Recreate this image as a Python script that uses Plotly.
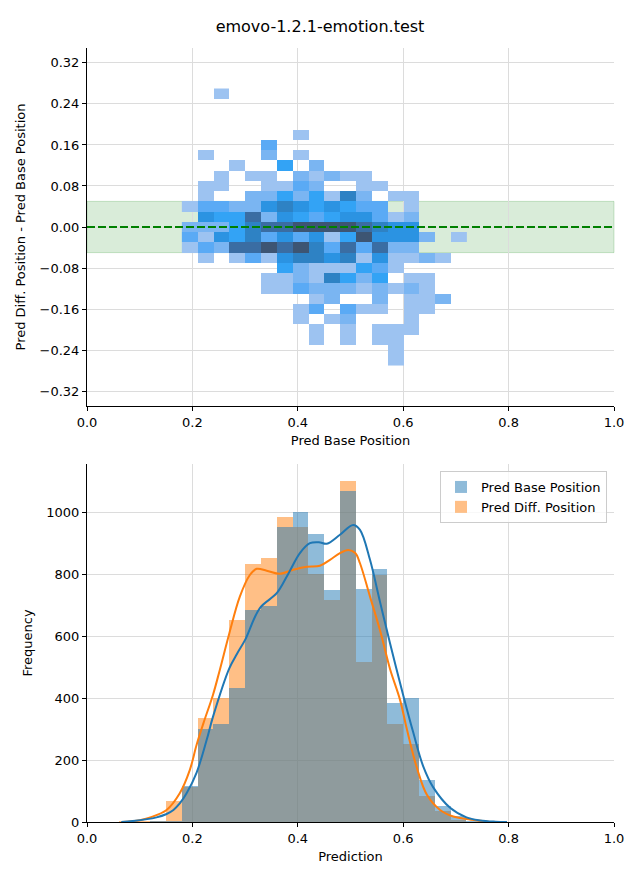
import numpy as np
import plotly.graph_objects as go

# ---------------- data: top 2D histogram ----------------
hx_centers = [0.195, 0.225, 0.255, 0.285, 0.315, 0.345, 0.375, 0.405, 0.435,
              0.465, 0.495, 0.525, 0.555, 0.585, 0.615, 0.645, 0.675, 0.705]
hy_centers = [0.26, 0.24, 0.22, 0.20, 0.18, 0.16, 0.14, 0.12, 0.10, 0.08, 0.06,
              0.04, 0.02, 0.00, -0.02, -0.04, -0.06, -0.08, -0.10, -0.12, -0.14,
              -0.16, -0.18, -0.20, -0.22, -0.24, -0.26]
# counts per cell: {row value: {column index: count}}
cell_counts = {
    0.26: {2: 1},
    0.18: {7: 1},
    0.16: {5: 3},
    0.14: {1: 1, 5: 2, 7: 1},
    0.12: {3: 1, 6: 4, 8: 2},
    0.10: {2: 1, 4: 1, 5: 1, 7: 2, 8: 1, 9: 2, 10: 1, 11: 1},
    0.08: {1: 1, 2: 1, 5: 1, 6: 1, 7: 3, 8: 2, 11: 1, 12: 1},
    0.06: {1: 1, 4: 2, 5: 2, 6: 4, 7: 2, 8: 4, 9: 1, 10: 6, 11: 2, 13: 1, 14: 1},
    0.04: {0: 1, 1: 3, 2: 3, 3: 2, 4: 2, 5: 5, 6: 6, 7: 5, 8: 4, 9: 5, 10: 4, 11: 3, 12: 3, 14: 1},
    0.02: {1: 5, 2: 4, 3: 4, 4: 7, 5: 2, 6: 5, 7: 4, 8: 3, 9: 4, 10: 5, 11: 5, 12: 3, 13: 1, 14: 2},
    0.00: {0: 2, 1: 2, 2: 2, 3: 4, 4: 6, 5: 7, 6: 7, 7: 8, 8: 8, 9: 8, 10: 8, 11: 7, 12: 6, 13: 5, 14: 5},
    -0.02: {0: 3, 1: 1, 2: 5, 3: 4, 4: 6, 5: 3, 6: 5, 7: 3, 8: 5, 9: 1, 10: 4, 11: 8, 12: 5, 13: 5, 14: 5, 15: 2, 17: 1},
    -0.04: {0: 1, 1: 3, 2: 2, 3: 7, 4: 7, 5: 8, 6: 7, 7: 8, 8: 6, 9: 3, 10: 7, 11: 3, 12: 7, 13: 2, 14: 2},
    -0.06: {1: 1, 3: 1, 4: 3, 5: 1, 6: 5, 7: 6, 8: 6, 9: 5, 10: 6, 11: 1, 12: 5, 13: 1, 14: 1, 15: 2, 16: 1},
    -0.08: {6: 4, 7: 2, 8: 1, 9: 1, 10: 1, 11: 4, 12: 3, 13: 1},
    -0.10: {5: 1, 6: 1, 7: 2, 8: 1, 9: 6, 10: 4, 11: 2, 12: 4, 14: 1, 15: 1},
    -0.12: {5: 1, 6: 1, 7: 3, 8: 2, 9: 2, 10: 2, 11: 1, 12: 2, 13: 1, 14: 2, 15: 1},
    -0.14: {8: 1, 9: 2, 12: 2, 14: 1, 15: 1, 16: 2},
    -0.16: {7: 1, 8: 3, 10: 3, 11: 1, 12: 1, 14: 1, 15: 1},
    -0.18: {7: 1, 9: 1, 10: 2, 14: 1},
    -0.20: {8: 1, 10: 1, 12: 1, 13: 1, 14: 1},
    -0.22: {8: 1, 10: 1, 12: 1, 13: 1},
    -0.24: {13: 1},
    -0.26: {13: 1},
}
top_yticks = [-0.32, -0.24, -0.16, -0.08, 0.00, 0.08, 0.16, 0.24, 0.32]
x_ticks = [0.0, 0.2, 0.4, 0.6, 0.8, 1.0]

# ---------------- data: bottom histograms ----------------
bin_edges = [0.06, 0.09, 0.12, 0.15, 0.18, 0.21, 0.24, 0.27, 0.30, 0.33, 0.36, 0.39,
             0.42, 0.45, 0.48, 0.51, 0.54, 0.57, 0.60, 0.63, 0.66, 0.69, 0.72, 0.75]
base_counts = [0, 1, 2, 3, 116, 300, 317, 433, 685, 700, 953, 1002,
               933, 752, 1070, 755, 818, 385, 400, 136, 52, 19, 3]
diff_counts = [2, 2, 3, 68, 112, 337, 400, 652, 833, 853, 985, 953,
               802, 717, 1102, 518, 800, 317, 252, 85, 36, 6, 1]

base_kde_x = [0.065, 0.087, 0.132, 0.150, 0.164, 0.176, 0.189, 0.208, 0.227, 0.239,
              0.270, 0.285, 0.300, 0.328, 0.360, 0.381, 0.404, 0.423, 0.440, 0.455,
              0.480, 0.505, 0.518, 0.537, 0.556, 0.575, 0.600, 0.619, 0.638, 0.657,
              0.689, 0.720, 0.746, 0.775, 0.797]
base_kde_y = [0, 3, 15, 25, 39, 60, 93, 160, 265, 340,
              497, 545, 589, 692, 740, 800, 870, 902, 905, 900,
              929, 961, 945, 848, 712, 578, 410, 290, 180, 112,
              46, 15, 5, 1, 0]
diff_kde_x = [0.066, 0.100, 0.120, 0.151, 0.176, 0.195, 0.208, 0.221, 0.239, 0.252,
              0.270, 0.290, 0.309, 0.322, 0.341, 0.366, 0.391, 0.417, 0.442, 0.461,
              0.480, 0.496, 0.509, 0.518, 0.537, 0.556, 0.575, 0.594, 0.607, 0.626,
              0.645, 0.670, 0.695, 0.720, 0.746, 0.765]
diff_kde_y = [0, 6, 15, 39, 93, 168, 250, 320, 411, 492,
              610, 729, 799, 819, 813, 803, 816, 826, 829, 848,
              870, 880, 870, 837, 729, 620, 495, 395, 300, 175,
              88, 39, 18, 10, 4, 0]
bottom_yticks = [0, 200, 400, 600, 800, 1000]

# ---------------- build ----------------
z = []
for v in hy_centers:
    row = [None] * len(hx_centers)
    for c, n in cell_counts.get(v, {}).items():
        row[c] = n
    z.append(row)

cmap_colors = ["#9dc3f1", "#7ab5f2", "#5aaaf5", "#33a3f5",
               "#2b93e2", "#2e82c4", "#3a6da3", "#3d5573"]
colorscale = [[i / (len(cmap_colors) - 1), col] for i, col in enumerate(cmap_colors)]

edges = np.array(bin_edges)
centers = (edges[:-1] + edges[1:]) / 2
widths = edges[1:] - edges[:-1]

FONT = "DejaVu Sans"
fig = go.Figure()

fig.add_trace(go.Heatmap(
    x=hx_centers, y=hy_centers, z=z, zmin=1, zmax=8,
    colorscale=colorscale, showscale=False, hoverongaps=False,
    xaxis="x", yaxis="y"))

fig.add_trace(go.Bar(
    x=centers, y=diff_counts, width=widths, name="Pred Diff. Position",
    marker=dict(color="rgba(255,127,14,0.5)", line=dict(width=0)),
    xaxis="x2", yaxis="y2", legendrank=2))
fig.add_trace(go.Bar(
    x=centers, y=base_counts, width=widths, name="Pred Base Position",
    marker=dict(color="rgba(31,119,180,0.5)", line=dict(width=0)),
    xaxis="x2", yaxis="y2", legendrank=1))
fig.add_trace(go.Scatter(
    x=diff_kde_x, y=diff_kde_y, mode="lines", line=dict(color="#ff7f0e", width=2, shape="spline"),
    showlegend=False, xaxis="x2", yaxis="y2"))
fig.add_trace(go.Scatter(
    x=base_kde_x, y=base_kde_y, mode="lines", line=dict(color="#1f77b4", width=2, shape="spline"),
    showlegend=False, xaxis="x2", yaxis="y2"))

# page body has an 8px margin: figure is placed at (8, 8)
OFF = 8
W, HT = 624, 864
L, T = 87 - OFF, 48 - OFF
R = W - (614 - OFF)
B = HT - (822 - OFF)
H = HT - T - B
PW = W - L - R
top_dom = [(822 - 406) / H, 1.0]
bot_dom = [0.0, (822 - 464) / H]

axis_common = dict(
    showline=True, linecolor="black", linewidth=1, ticks="outside", ticklen=4,
    tickcolor="black", showgrid=True, gridcolor="#dcdcdc", gridwidth=1,
    zeroline=False, tickfont=dict(family=FONT, size=13, color="black"),
    mirror=False, automargin=False)

fig.update_layout(
    width=W, height=HT,
    margin=dict(l=L, r=R, t=T, b=B, autoexpand=False),
    paper_bgcolor="white", plot_bgcolor="white",
    font=dict(family=FONT, size=13, color="black"),
    title=dict(text="emovo-1.2.1-emotion.test", x=(320 - OFF) / W, xanchor="center",
               y=1 - (26 - OFF) / HT, yanchor="middle",
               font=dict(family=FONT, size=16, color="black")),
    barmode="overlay", bargap=0,
    showlegend=True,
    legend=dict(x=(607 - 87) / PW, xanchor="right", y=(822 - 471) / H, yanchor="top",
                bgcolor="rgba(255,255,255,0.8)", bordercolor="#cccccc", borderwidth=1,
                font=dict(family=FONT, size=13, color="black"), traceorder="normal"),
    xaxis=dict(domain=[0, 1], anchor="y", range=[0, 1], tickvals=x_ticks, tickformat=".1f",
               title=dict(text="Pred Base Position", standoff=7,
                          font=dict(family=FONT, size=13)), **axis_common),
    yaxis=dict(domain=top_dom, anchor="x", range=[-0.349, 0.349], tickvals=top_yticks,
               tickformat=".2f",
               title=dict(text="Pred Diff. Position - Pred Base Position", standoff=11,
                          font=dict(family=FONT, size=13)), **axis_common),
    xaxis2=dict(domain=[0, 1], anchor="y2", range=[0, 1], tickvals=x_ticks, tickformat=".1f",
                title=dict(text="Prediction", standoff=7,
                           font=dict(family=FONT, size=13)), **axis_common),
    yaxis2=dict(domain=bot_dom, anchor="x2", range=[0, 1158], tickvals=bottom_yticks,
                title=dict(text="Frequency", standoff=10,
                           font=dict(family=FONT, size=13)), **axis_common),
    shapes=[
        dict(type="rect", xref="x domain", yref="y", x0=0, x1=1, y0=-0.05, y1=0.05,
             fillcolor="rgba(0,128,0,0.15)", line=dict(color="rgba(0,128,0,0.18)", width=1),
             layer="below"),
        dict(type="line", xref="x domain", yref="y", x0=0, x1=1, y0=0, y1=0,
             line=dict(color="green", width=2, dash="8px,3px"), layer="above"),
    ],
)

fig.write_html("out.html")
